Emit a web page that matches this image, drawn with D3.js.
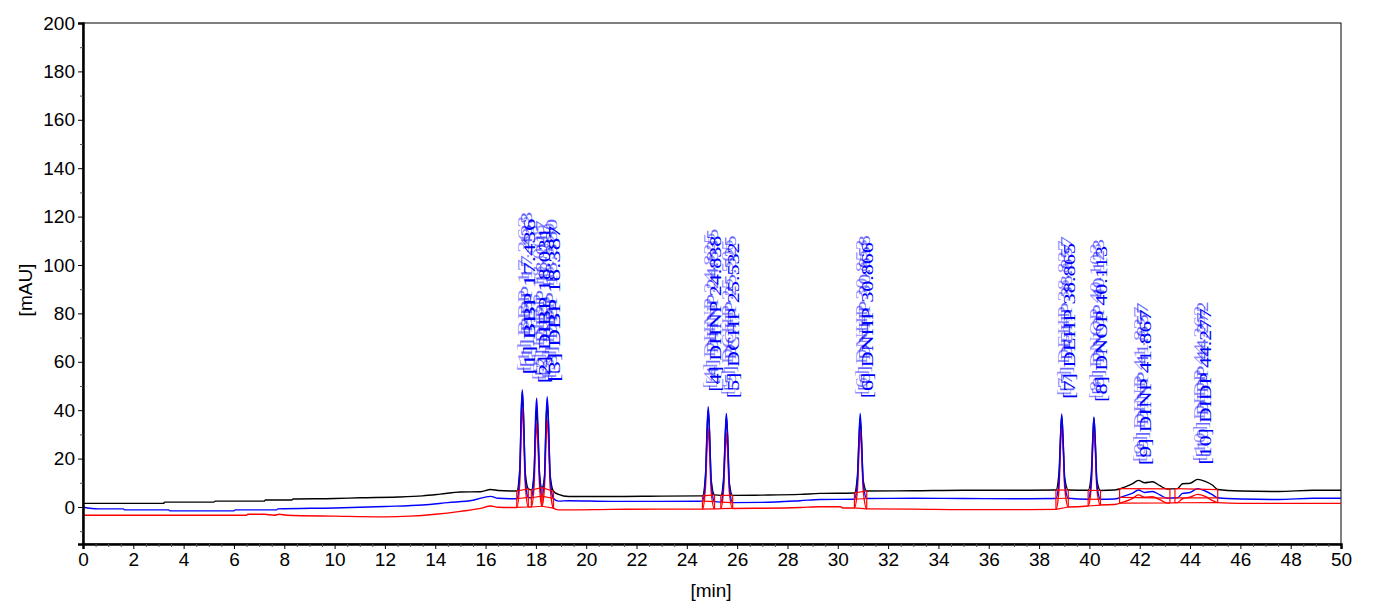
<!DOCTYPE html>
<html><head><meta charset="utf-8">
<script src="https://cdn.jsdelivr.net/npm/d3@7"></script>
<style>body{margin:0;background:#fff}svg{display:block}</style>
</head><body>
<svg id="chart" width="1373" height="608"></svg>
<script>
// ---- data (min, mAU) ----
const blackTrace = [[0,1.5],[3.2,1.5],[3.25,2.0],[5.2,2.0],[5.25,2.4],[7.2,2.4],[7.25,2.9],[8.3,2.9],[8.35,3.3],[10,3.5],[11,3.8],[12.5,4.1],[13.5,4.6],[14.2,5.3],[15,6.2],[15.8,6.3],[16.2,7.2],[16.5,6.8],[17.0,6.6],[17.24,6.6],
[17.36,16],[17.42,39],[17.46,47.5],[17.51,37],[17.58,14],[17.70,7.5],
[17.82,7.0],[17.93,15],[17.99,34],[18.03,40.6],[18.08,31],[18.15,13],[18.24,8.0],
[18.34,12],[18.41,36],[18.45,43.5],[18.50,34],[18.57,13],[18.70,6.5],[18.9,5.2],[19.3,4.3],
[21,4.3],[23,4.5],[24.62,4.6],[24.74,13],[24.81,33],[24.85,40],[24.90,31],[24.97,11],[25.1,5.0],
[25.35,4.8],[25.46,12],[25.53,30],[25.57,37.3],[25.62,29],[25.69,10],[25.82,4.8],
[27,4.9],[28.5,5.2],[29.3,5.6],[30.66,5.8],[30.78,13],[30.85,30],[30.89,36.6],[30.94,28],[31.01,11],[31.15,6.6],
[33,6.7],[35,6.9],[37,6.9],[38.67,7.0],[38.79,14],[38.86,31],[38.9,37.6],[38.95,29],[39.02,12],[39.16,7.0],
[39.95,6.9],[40.07,13],[40.14,30],[40.18,36.8],[40.23,28],[40.3,11],[40.44,6.8],
[41.0,7.0],[41.4,8.2],[41.7,9.5],[41.95,11.0],[42.2,10.0],[42.5,10.4],[42.8,8.8],[43.1,7.4],[43.5,7.6],[43.7,9.6],[44.0,9.8],[44.3,11.4],[44.6,10.6],[44.9,9.0],[45.1,7.2],[46,6.6],[47.5,6.4],[48.9,6.9],[50,6.9]];

const blueTrace = [[0,-0.1],[0.6,-0.8],[1.6,-0.8],[1.65,-1.2],[3.4,-1.2],[3.45,-1.6],[6.0,-1.6],[6.05,-1.2],[7.7,-1.2],[7.75,-0.8],[10,-0.4],[12,0.2],[13.5,0.8],[14.5,1.8],[15.5,2.8],[16.2,4.4],[16.5,3.6],[17.0,3.4],[17.24,3.4],
[17.36,14],[17.42,40],[17.46,48.5],[17.51,38],[17.58,12],[17.70,4.0],
[17.82,3.8],[17.93,14],[17.99,38],[18.03,44.9],[18.08,34],[18.15,12],[18.24,4.5],
[18.34,12],[18.41,38],[18.45,45.6],[18.50,36],[18.57,12],[18.70,3.5],[18.9,2.4],[19.3,2.6],
[21,2.3],[23,2.3],[24.62,2.4],[24.74,12],[24.81,34],[24.85,41.4],[24.90,32],[24.97,10],[25.1,2.2],
[25.35,2.0],[25.46,10],[25.53,31],[25.57,38.7],[25.62,30],[25.69,9],[25.82,1.8],
[27,1.9],[28.5,2.6],[29.3,3.1],[30.66,3.2],[30.78,11],[30.85,31],[30.89,38.7],[30.94,29],[31.01,10],[31.15,3.5],
[33,3.6],[35,3.5],[37,3.4],[38.67,3.5],[38.79,11],[38.86,31],[38.9,38.4],[38.95,29],[39.02,10],[39.16,3.6],
[39.95,3.2],[40.07,10],[40.14,29],[40.18,37.2],[40.23,28],[40.3,9],[40.44,3.2],
[41.0,3.3],[41.4,4.6],[41.7,5.6],[41.95,7.0],[42.2,6.0],[42.5,6.4],[42.8,5.0],[43.1,3.6],[43.5,3.8],[43.7,5.6],[44.0,6.0],[44.3,7.6],[44.6,6.6],[44.9,5.0],[45.1,3.8],[46,3.3],[47.5,3.1],[48.9,3.6],[50,3.6]];

const redTrace = [[0,-3.4],[6.5,-3.4],[6.55,-3.0],[7.2,-3.0],[7.6,-3.4],[7.8,-3.0],[8.1,-3.4],[10,-3.8],[12,-4.1],[13,-3.8],[14,-3.0],[15,-1.8],[15.8,-0.6],[16.2,0.4],[16.5,-0.1],[17.0,-0.2],[17.24,-0.2],
[17.36,10],[17.42,33],[17.46,41],[17.51,31],[17.58,9],[17.70,0.0],
[17.82,0.0],[17.93,9],[17.99,28],[18.03,34.7],[18.08,26],[18.15,8],[18.24,0.3],
[18.34,8],[18.41,29],[18.45,36],[18.50,28],[18.57,8],[18.70,-0.5],[18.9,-1.2],[19.3,-1.2],
[21,-1.0],[23,-0.9],[24.62,-0.9],[24.74,8],[24.81,26],[24.85,32.6],[24.90,24],[24.97,6],[25.1,-0.8],
[25.35,-0.7],[25.46,7],[25.53,24],[25.57,30.6],[25.62,23],[25.69,6],[25.82,-0.6],
[27,-0.5],[28.5,-0.2],[29.3,0.1],[30.1,0.1],[30.2,-0.4],[30.66,-0.4],[30.78,7],[30.85,25],[30.89,31.8],[30.94,24],[31.01,7],[31.15,-0.8],
[33,-0.9],[35,-1.1],[37,-1.1],[38.67,-1.0],[38.79,7],[38.86,27],[38.9,34],[38.95,26],[39.02,8],[39.16,0.0],
[39.95,0.4],[40.07,8],[40.14,26],[40.18,32.6],[40.23,24],[40.3,7],[40.44,0.8],
[41.0,1.0],[41.4,2.2],[41.7,3.4],[41.95,5.0],[42.2,4.0],[42.5,4.2],[42.8,3.0],[43.1,1.6],[43.5,1.8],[43.7,3.4],[44.0,4.0],[44.3,5.2],[44.6,4.4],[44.9,2.6],[45.1,1.8],[46,1.5],[50,1.5]];

// integration windows [start, end] in min, one per peak
const peakStart = [17.24,17.82,18.24,24.62,25.35,30.66,38.67,39.95,41.2,43.4];
const peakEnd   = [17.70,18.24,18.70,25.10,25.82,31.15,39.16,40.44,43.2,45.1];
const peakTime  = [17.46,18.03,18.45,24.85,25.57,30.89,38.90,40.18,41.95,44.30];
// peak labels (one per trace)
const labelNo   = ["[1]","[2]","[3]","[4]","[5]","[6]","[7]","[8]","[9]","[10]"];
const labelName = ["BBP","DIBP","DBP","DHNP","DCHP","DNHP","DEHP","DNOP","DINP","DIDP"];
const rtBlack   = ["17.433","18.017","18.360","24.835","25.525","30.858","38.857","40.123","41.857","44.272"];
const rtBlue    = ["17.436","18.031","18.387","24.838","25.532","30.866","38.865","40.113","41.867","44.277"];
const rtRed     = ["17.363","18.008","18.350","24.825","25.505","30.853","38.837","40.103","41.837","44.262"];

const xTicks = d3.range(0, 51, 2);
const yTicks = d3.range(0, 201, 20);

// ---- layout ----
const svg = d3.select("#chart");
const L = 83, R = 1341, T = 23, B = 544;
const x = d3.scaleLinear().domain([0, 50]).range([L, R]);
const y = d3.scaleLinear().domain([-15.3, 200]).range([B, T]);
const font = "'Liberation Sans', Arial, sans-serif";

// frame
svg.append("rect").attr("x", L).attr("y", T).attr("width", R - L).attr("height", B - T)
  .attr("fill", "none").attr("stroke", "#000").attr("stroke-width", 1);

const plot = svg.append("g");
const line = d3.line().x(d => x(d[0])).y(d => y(d[1])).curve(d3.curveMonotoneX);

plot.append("path").datum(blackTrace).attr("d", line).attr("fill", "none").attr("stroke", "#000").attr("stroke-width", 1.4);
plot.append("path").datum(redTrace).attr("d", line).attr("fill", "none").attr("stroke", "#ff0000").attr("stroke-width", 1.4);
plot.append("path").datum(blueTrace).attr("d", line).attr("fill", "none").attr("stroke", "#0000ff").attr("stroke-width", 1.4);

// integration baselines
const bis = d3.bisector(d => d[0]).left;
function valAt(tr, t) {
  const i = bis(tr, t);
  if (i <= 0) return tr[0][1];
  if (i >= tr.length) return tr[tr.length - 1][1];
  const a = tr[i - 1], b = tr[i];
  return a[1] + (b[1] - a[1]) * (t - a[0]) / (b[0] - a[0]);
}
const traces = [blackTrace, blueTrace, redTrace];
const ig = svg.append("g").attr("stroke", "#ff0000").attr("stroke-width", 1.2).attr("fill", "none");
peakStart.forEach((s, k) => {
  const e = peakEnd[k];
  traces.forEach(tr => {
    ig.append("line").attr("x1", x(s)).attr("x2", x(e))
      .attr("y1", y(valAt(tr, s))).attr("y2", y(valAt(tr, e)));
  });
  [s, e].forEach(t => {
    ig.append("line").attr("x1", x(t)).attr("x2", x(t))
      .attr("y1", y(valAt(blackTrace, t))).attr("y2", y(valAt(redTrace, t)));
  });
});

// peak labels
const lg = svg.append("g").attr("font-family", "'Liberation Serif', 'Times New Roman', serif").attr("font-size", 16);
const copies = [
  {rt: rtRed,   dx: 0, dy: 0,  op: 0.45},
  {rt: rtBlack, dx: 3, dy: -4, op: 0.6},
  {rt: rtBlue,  dx: 6, dy: 3,  op: 1}
];
peakTime.forEach((pt, k) => {
  let top = -Infinity;
  traces.forEach(tr => tr.forEach(d => { if (d[0] >= peakStart[k] && d[0] <= peakEnd[k]) top = Math.max(top, d[1]); }));
  const bx = x(pt) + 7, by = y(top) - 18;
  copies.forEach(c => {
    lg.append("text")
      .attr("transform", `translate(${bx + c.dx},${by + c.dy}) rotate(-90)`)
      .attr("fill", "#0000ff").attr("fill-opacity", c.op)
      .attr("textLength", 156).attr("lengthAdjust", "spacingAndGlyphs")
      .text(`${labelNo[k]} ${labelName[k]} ${c.rt[k]}`);
  });
});

// axes
const xAxis = d3.axisBottom(x).tickValues(xTicks).tickSize(5).tickPadding(4).tickFormat(d3.format("d"));
const gx = svg.append("g").attr("transform", `translate(0,${B})`).call(xAxis);
gx.select(".domain").attr("stroke-width", 2.5);
gx.selectAll("text").attr("font-family", font).attr("font-size", 19).attr("fill", "#000");
const gxm = svg.append("g").attr("transform", `translate(0,${B})`)
  .call(d3.axisBottom(x).tickValues(d3.range(0, 50.01, 0.5).filter(v => v % 2 !== 0)).tickSize(3).tickFormat(""));
gxm.select(".domain").remove();
gxm.selectAll("line").attr("stroke", "#555");

const yAxis = d3.axisLeft(y).tickValues(yTicks).tickSize(5).tickPadding(3);
const gy = svg.append("g").attr("transform", `translate(${L},0)`).call(yAxis);
gy.select(".domain").attr("stroke-width", 2.5);
gy.selectAll("text").attr("font-family", font).attr("font-size", 19).attr("fill", "#000");
const gym = svg.append("g").attr("transform", `translate(${L},0)`)
  .call(d3.axisLeft(y).tickValues(d3.range(-10, 200, 20)).tickSize(3).tickFormat(""));
gym.select(".domain").remove();
gym.selectAll("line").attr("stroke", "#555");

svg.append("text").attr("x", (L + R) / 2 - 1).attr("y", 597).attr("text-anchor", "middle")
  .attr("font-family", font).attr("font-size", 19).text("[min]");
svg.append("text").attr("transform", `translate(32,290) rotate(-90)`).attr("text-anchor", "middle")
  .attr("font-family", font).attr("font-size", 19).text("[mAU]");
</script>
</body></html>
